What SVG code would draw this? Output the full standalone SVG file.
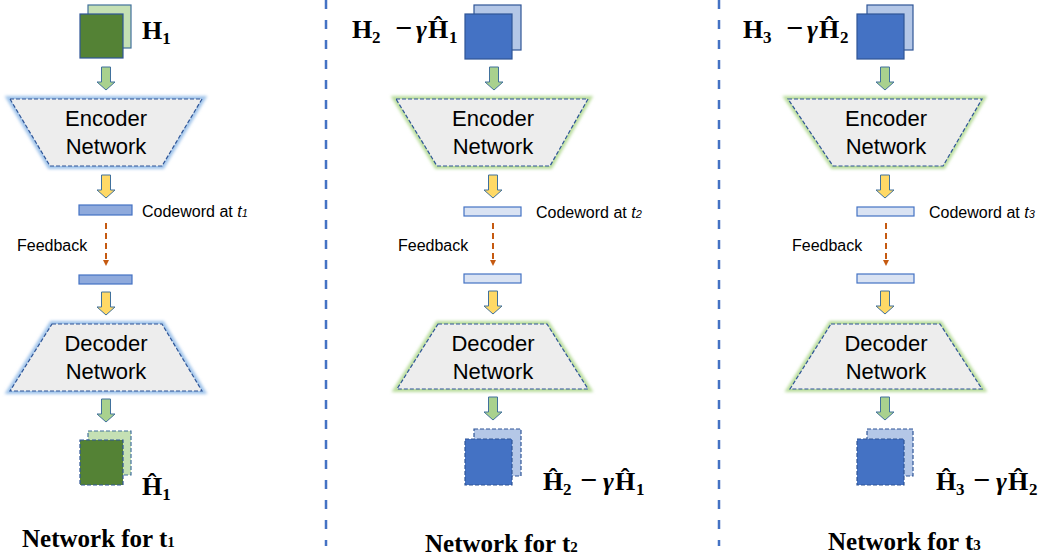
<svg xmlns="http://www.w3.org/2000/svg" xmlns:xlink="http://www.w3.org/1999/xlink" width="1047" height="559" viewBox="0 0 1047 559">
  <style>
    .sans { font-family: "Liberation Sans", Arial, sans-serif; fill: #000; }
    .block { font-size: 22px; text-anchor: middle; }
    .small { font-size: 16px; }
    .math { font-family: "Liberation Serif", "Times New Roman", serif; font-weight: bold; font-size: 26px; fill: #000; }
    .msub { font-size: 17px; }
    .minus { font-size: 30px; }
    .title { font-family: "Liberation Serif", "Times New Roman", serif; font-weight: bold; font-size: 25px; fill: #000; }
    .trap { fill: #ededed; stroke: #2f5597; stroke-width: 1.2; stroke-dasharray: 4 2; }
    .glow-blue { fill: none; stroke: #9fc3ea; stroke-width: 6; filter: url(#soft); }
    .glow-green { fill: none; stroke: #b9dd9c; stroke-width: 6; filter: url(#soft); }
    .arrow-green { fill: #a9d18e; stroke: #41719c; stroke-width: 1; }
    .arrow-yellow { fill: #ffd966; stroke: #41719c; stroke-width: 1; }
    .bar-dark { fill: #8faadc; stroke: #4472c4; stroke-width: 1.2; }
    .bar-light { fill: #dae3f3; stroke: #4472c4; stroke-width: 1.2; }
    .feedback { stroke: #c55a11; stroke-width: 2; stroke-dasharray: 6 4; fill: none; }
    .sep { stroke: #4472c4; stroke-width: 2.5; stroke-dasharray: 9 11; }
    .sq-back-g { fill: #c5e0b4; stroke: #41719c; stroke-width: 1.2; }
    .sq-front-g { fill: #548235; stroke: #2f5597; stroke-width: 1.2; }
    .sq-back-b { fill: #b4c7e7; stroke: #2f5597; stroke-width: 1.2; }
    .sq-front-b { fill: #4472c4; stroke: #2f5597; stroke-width: 1.2; }
    .dash { stroke-dasharray: 4 2; }
  </style>
  <defs>
    <filter id="soft" x="-10%" y="-20%" width="120%" height="140%">
      <feGaussianBlur stdDeviation="1.4"/>
    </filter>
    <marker id="head" markerWidth="6" markerHeight="6" refX="3" refY="3" orient="auto" markerUnits="userSpaceOnUse">
      <path d="M0,0 L6,3 L0,6 Z" fill="#c55a11"/>
    </marker>
    <!-- block arrow pointing down, origin at top centre of shaft -->
    <path id="blockArrow" d="M-4.5,0 H4.5 V15 H9 L0,23 L-9,15 H-4.5 Z"/>
  </defs>

  <rect width="1047" height="559" fill="#ffffff"/>

  <!-- separators between the three time steps -->
  <g id="separators">
    <line class="sep" x1="326" y1="0" x2="326" y2="546"/>
    <line class="sep" x1="719" y1="0" x2="719" y2="546"/>
  </g>

  <!-- ===== Network for t1 ===== -->
  <g id="input-t1">
    <rect class="sq-back-g" x="88" y="5" width="43" height="43"/>
    <rect class="sq-front-g" x="80" y="14" width="43" height="44"/>
    <text class="math" x="142" y="39">H<tspan class="msub" dy="5">1</tspan></text>
  </g>
  <g id="encoder-t1">
    <path class="glow-blue" d="M10,99 H202 L162,166 H50 Z"/>
    <path class="trap" d="M10,99 H202 L162,166 H50 Z"/>
    <text class="sans block" x="106" y="126">Encoder</text>
    <text class="sans block" x="106" y="154">Network</text>
  </g>
  <g id="codeword-tx-t1">
    <rect class="bar-dark" x="79" y="205" width="53" height="10"/>
    <text class="sans small" x="142" y="217">Codeword at <tspan font-style="italic">t</tspan><tspan font-style="italic" font-size="11">1</tspan></text>
  </g>
  <g id="codeword-rx-t1">
    <rect class="bar-dark" x="79" y="275" width="53" height="9"/>
  </g>
  <g id="decoder-t1">
    <path class="glow-blue" d="M52,324 H162 L202,391 H10 Z"/>
    <path class="trap" d="M52,324 H162 L202,391 H10 Z"/>
    <text class="sans block" x="106" y="351">Decoder</text>
    <text class="sans block" x="106" y="379">Network</text>
  </g>
  <g id="output-t1">
    <rect class="sq-back-g dash" x="88" y="431" width="43" height="44"/>
    <rect class="sq-front-g dash" x="80" y="440" width="43" height="45"/>
    <text class="math" x="142" y="495">Ĥ<tspan class="msub" dy="5">1</tspan></text>
  </g>
  <g id="title-t1">
    <text class="title" x="22" y="547">Network for t<tspan font-size="15">1</tspan></text>
  </g>

  <!-- ===== Network for t2 ===== -->
  <g id="input-t2">
    <rect class="sq-back-b" x="474" y="5" width="47" height="45"/>
    <text class="math" x="352" y="38">H<tspan class="msub" x="372" dy="5">2</tspan><tspan class="minus" x="395" dy="-5">−</tspan><tspan x="416" font-style="italic">γ</tspan><tspan x="428">Ĥ</tspan><tspan class="msub" x="449" dy="5">1</tspan></text>
    <rect class="sq-front-b" x="465" y="14" width="47" height="45"/>
  </g>
  <g id="encoder-t2">
    <path class="glow-green" d="M396,99 H588 L550,166 H437 Z"/>
    <path class="trap" d="M396,99 H588 L550,166 H437 Z"/>
    <text class="sans block" x="493" y="126">Encoder</text>
    <text class="sans block" x="493" y="154">Network</text>
  </g>
  <g id="codeword-tx-t2">
    <rect class="bar-light" x="464" y="207" width="57" height="9"/>
    <text class="sans small" x="536" y="218">Codeword at <tspan font-style="italic">t</tspan><tspan font-style="italic" font-size="11">2</tspan></text>
  </g>
  <g id="codeword-rx-t2">
    <rect class="bar-light" x="464" y="274" width="57" height="9"/>
  </g>
  <g id="decoder-t2">
    <path class="glow-green" d="M438,324 H547 L588,389 H397 Z"/>
    <path class="trap" d="M438,324 H547 L588,389 H397 Z"/>
    <text class="sans block" x="493" y="351">Decoder</text>
    <text class="sans block" x="493" y="379">Network</text>
  </g>
  <g id="output-t2">
    <rect class="sq-back-b dash" x="474" y="429" width="47" height="47"/>
    <rect class="sq-front-b dash" x="465" y="439" width="47" height="46"/>
    <text class="math" x="543" y="490">Ĥ<tspan class="msub" x="563" dy="5">2</tspan><tspan class="minus" x="580" dy="-5">−</tspan><tspan x="603" font-style="italic">γ</tspan><tspan x="615">Ĥ</tspan><tspan class="msub" x="636" dy="5">1</tspan></text>
  </g>
  <g id="title-t2">
    <text class="title" x="425" y="552">Network for t<tspan font-size="15">2</tspan></text>
  </g>

  <!-- ===== Network for t3 ===== -->
  <g id="input-t3">
    <rect class="sq-back-b" x="867" y="5" width="46" height="45"/>
    <text class="math" x="743" y="38">H<tspan class="msub" x="763" dy="5">3</tspan><tspan class="minus" x="786" dy="-5">−</tspan><tspan x="807" font-style="italic">γ</tspan><tspan x="819">Ĥ</tspan><tspan class="msub" x="840" dy="5">2</tspan></text>
    <rect class="sq-front-b" x="857" y="14" width="47" height="45"/>
  </g>
  <g id="encoder-t3">
    <path class="glow-green" d="M788,99 H982 L943,166 H833 Z"/>
    <path class="trap" d="M788,99 H982 L943,166 H833 Z"/>
    <text class="sans block" x="886" y="126">Encoder</text>
    <text class="sans block" x="886" y="154">Network</text>
  </g>
  <g id="codeword-tx-t3">
    <rect class="bar-light" x="857" y="207" width="57" height="9"/>
    <text class="sans small" x="929" y="218">Codeword at <tspan font-style="italic">t</tspan><tspan font-style="italic" font-size="11">3</tspan></text>
  </g>
  <g id="codeword-rx-t3">
    <rect class="bar-light" x="857" y="274" width="57" height="9"/>
  </g>
  <g id="decoder-t3">
    <path class="glow-green" d="M831,324 H940 L982,389 H790 Z"/>
    <path class="trap" d="M831,324 H940 L982,389 H790 Z"/>
    <text class="sans block" x="886" y="351">Decoder</text>
    <text class="sans block" x="886" y="379">Network</text>
  </g>
  <g id="output-t3">
    <rect class="sq-back-b dash" x="867" y="429" width="46" height="47"/>
    <rect class="sq-front-b dash" x="857" y="439" width="47" height="46"/>
    <text class="math" x="936" y="490">Ĥ<tspan class="msub" x="956" dy="5">3</tspan><tspan class="minus" x="973" dy="-5">−</tspan><tspan x="996" font-style="italic">γ</tspan><tspan x="1008">Ĥ</tspan><tspan class="msub" x="1029" dy="5">2</tspan></text>
  </g>
  <g id="title-t3">
    <text class="title" x="828" y="550">Network for t<tspan font-size="15">3</tspan></text>
  </g>

  <!-- feedback labels -->
  <g id="feedback-labels">
    <text class="sans small" x="17" y="251">Feedback</text>
    <text class="sans small" x="398" y="251">Feedback</text>
    <text class="sans small" x="792" y="251">Feedback</text>
  </g>

  <!-- connectors: block arrows and feedback links -->
  <g id="connectors">
    <use xlink:href="#blockArrow" class="arrow-green" transform="translate(106,67)"/>
    <use xlink:href="#blockArrow" class="arrow-yellow" transform="translate(106,175)"/>
    <line class="feedback" x1="106" y1="223" x2="106" y2="263" marker-end="url(#head)"/>
    <use xlink:href="#blockArrow" class="arrow-yellow" transform="translate(106,292)"/>
    <use xlink:href="#blockArrow" class="arrow-green" transform="translate(106,399)"/>

    <use xlink:href="#blockArrow" class="arrow-green" transform="translate(494,67)"/>
    <use xlink:href="#blockArrow" class="arrow-yellow" transform="translate(493,175)"/>
    <line class="feedback" x1="493" y1="223" x2="493" y2="263" marker-end="url(#head)"/>
    <use xlink:href="#blockArrow" class="arrow-yellow" transform="translate(493,291)"/>
    <use xlink:href="#blockArrow" class="arrow-green" transform="translate(493,397)"/>

    <use xlink:href="#blockArrow" class="arrow-green" transform="translate(885,67)"/>
    <use xlink:href="#blockArrow" class="arrow-yellow" transform="translate(885,175)"/>
    <line class="feedback" x1="886" y1="223" x2="886" y2="263" marker-end="url(#head)"/>
    <use xlink:href="#blockArrow" class="arrow-yellow" transform="translate(885,291)"/>
    <use xlink:href="#blockArrow" class="arrow-green" transform="translate(885,397)"/>
  </g>
</svg>
